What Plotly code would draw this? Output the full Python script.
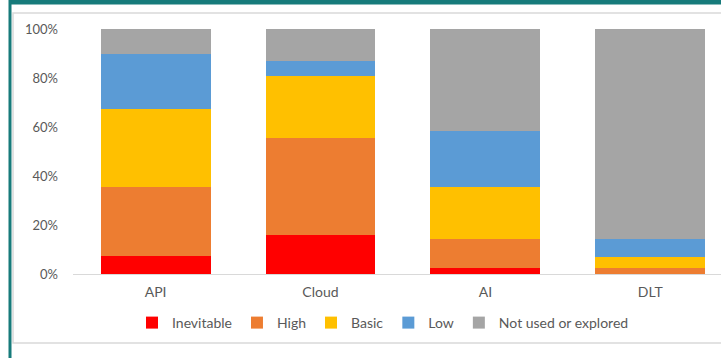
import plotly.graph_objects as go

categories = ["API", "Cloud", "AI", "DLT"]
series_names = ["Inevitable", "High", "Basic", "Low", "Not used or explored"]
inevitable = [7.2, 15.9, 2.4, 0.0]
high = [28.3, 39.8, 11.7, 2.4]
basic = [31.7, 25.2, 21.4, 4.5]
low = [22.6, 5.9, 22.8, 7.2]
not_used = [10.2, 13.2, 41.7, 85.9]
colors = ["#FF0000", "#ED7D31", "#FFC000", "#5B9BD5", "#A5A5A5"]
y_ticks = [0, 20, 40, 60, 80, 100]
y_tick_labels = ["0%", "20%", "40%", "60%", "80%", "100%"]

W, H = 721, 358
L, R, T, B = 73, 0, 29, 84
PW, PH = W - L - R, H - T - B


def px(x):
    return (x - L) / PW


def py(y):
    return (H - B - y) / PH


fig = go.Figure()
for name, vals, col in zip(series_names, [inevitable, high, basic, low, not_used], colors):
    fig.add_trace(go.Bar(x=categories, y=vals, name=name, marker_color=col,
                         marker_line_width=0))

font_family = "Lato, 'Open Sans', sans-serif"
fig.update_layout(
    width=W, height=H,
    margin=dict(l=L, r=R, t=T, b=B, autoexpand=False),
    barmode="stack",
    bargap=0.333,
    plot_bgcolor="white", paper_bgcolor="white",
    font=dict(family=font_family, size=12, color="#595959"),
    showlegend=True,
    legend=dict(orientation="h", x=px(383), xanchor="center", y=py(323), yanchor="middle",
                font=dict(size=14, color="#595959"), traceorder="normal",
                itemwidth=30),
    xaxis=dict(range=[-0.501, 3.429], showgrid=False, showline=True, linecolor="#D9D9D9",
               linewidth=1, ticks="", tickfont=dict(size=14, color="#595959"),
               ticklabelstandoff=5, fixedrange=True),
    yaxis=dict(range=[0, 100], tickmode="array", tickvals=y_ticks, ticktext=y_tick_labels,
               showgrid=False, zeroline=False, showline=False, ticks="",
               tickfont=dict(size=13, color="#595959"), ticklabelstandoff=14),
)

shapes = [
    # inner light gray chart frame
    dict(type="rect", xref="paper", yref="paper", x0=px(13), x1=px(780), y0=py(343), y1=py(13),
         line=dict(color="#D9D9D9", width=1.5), fillcolor="rgba(0,0,0,0)", layer="below"),
    # teal outer frame: top band
    dict(type="rect", xref="paper", yref="paper", x0=px(9), x1=px(730), y0=py(4.5), y1=py(-2),
         line=dict(width=0), fillcolor="#177B7B"),
    # teal outer frame: left band
    dict(type="rect", xref="paper", yref="paper", x0=px(8.5), x1=px(11.5), y0=py(362), y1=py(-2),
         line=dict(width=0), fillcolor="#177B7B"),
]
fig.update_layout(shapes=shapes)

fig.write_html("out.html")
